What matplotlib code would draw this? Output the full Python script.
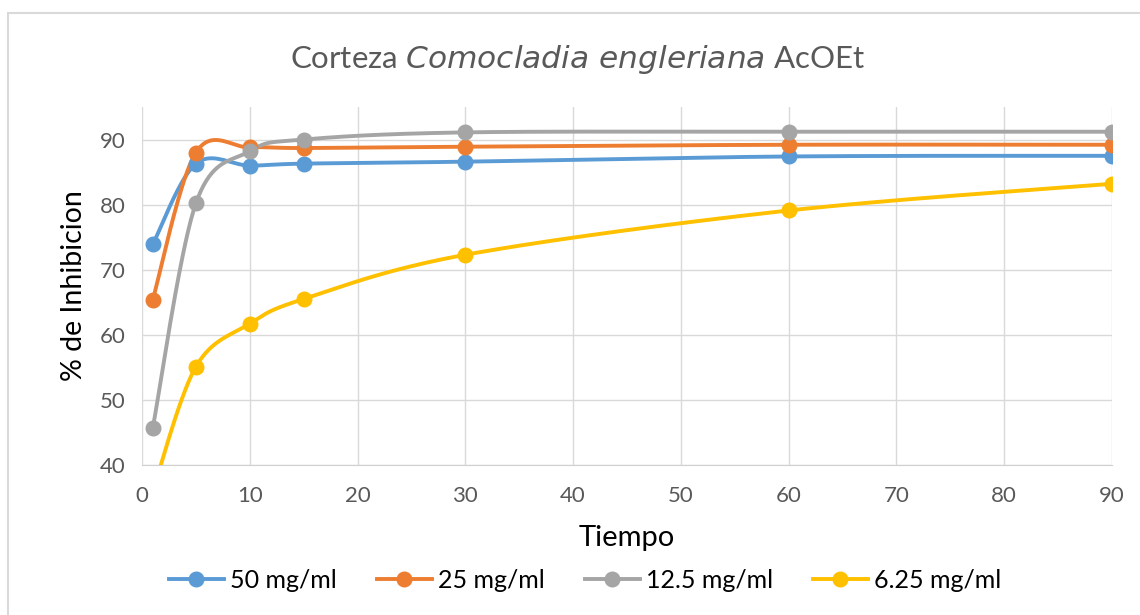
import matplotlib.pyplot as plt
import numpy as np
from matplotlib.lines import Line2D
from matplotlib.patches import Rectangle

plt.rcParams['font.family'] = ['Lato', 'DejaVu Sans']

tiempo = [1, 5, 10, 15, 30, 60, 90]
series_names = ['50 mg/ml', '25 mg/ml', '12.5 mg/ml', '6.25 mg/ml']
inh_50 = [73.9, 86.3, 86.0, 86.3, 86.6, 87.4, 87.5]
inh_25 = [65.4, 88.0, 88.8, 88.7, 88.9, 89.2, 89.2]
inh_12 = [45.7, 80.2, 88.2, 90.0, 91.1, 91.2, 91.2]
inh_6 = [36.0, 55.1, 61.7, 65.5, 72.3, 79.1, 83.2]
colors = ['#5B9BD5', '#ED7D31', '#A5A5A5', '#FFC000']


def smooth(xs, ys, n=40):
    # bezier through each pair of points, control points from neighbours (tension 1/6)
    p = np.column_stack([xs, ys]).astype(float)
    out = []
    for i in range(len(p) - 1):
        p_prev = p[i - 1] if i > 0 else p[i]
        p_next = p[i + 2] if i + 2 < len(p) else p[i + 1]
        c1 = p[i] + (p[i + 1] - p_prev) / 6
        c2 = p[i + 1] - (p_next - p[i]) / 6
        t = np.linspace(0, 1, n)[:, None]
        seg = ((1 - t) ** 3 * p[i] + 3 * (1 - t) ** 2 * t * c1
               + 3 * (1 - t) * t ** 2 * c2 + t ** 3 * p[i + 1])
        out.append(seg if i == 0 else seg[1:])
    out = np.vstack(out)
    return out[:, 0], out[:, 1]


fig = plt.figure(figsize=(11.4, 6.15), dpi=100)
fig.patches.append(Rectangle((8 / 1140, -0.1), 1.2, (615 - 13) / 615 + 0.1,
                             transform=fig.transFigure, fill=False,
                             edgecolor='#D9D9D9', linewidth=1.5))
ax = fig.add_axes([142 / 1140, 1 - 465 / 615, 970 / 1140, (465 - 107) / 615])

for ys, c in zip([inh_50, inh_25, inh_12, inh_6], colors):
    sx, sy = smooth(tiempo, ys)
    ax.plot(sx, sy, color=c, linewidth=2.8, solid_capstyle='round', zorder=3)
    ax.plot(tiempo, ys, 'o', color=c, markersize=10.5, zorder=4)

ax.set_xlim(0, 90)
ax.set_ylim(40, 95)
ax.set_xticks(range(0, 91, 10))
ax.set_yticks(range(40, 91, 10))
ax.grid(True, color='#D9D9D9', linewidth=1)
ax.set_axisbelow(True)
for s in ['top', 'right', 'left']:
    ax.spines[s].set_visible(False)
ax.spines['bottom'].set_color('#D0D0D0')
ax.tick_params(length=0, labelsize=16, labelcolor='#595959')
ax.tick_params(axis='x', pad=15)
ax.tick_params(axis='y', pad=12)

fig.text(578 / 1140, 1 - 60 / 615, 'Corteza $\\it{Comocladia\\ engleriana}$ AcOEt',
         ha='center', va='center', fontsize=22.5, color='#595959')
ax.set_xlabel('Tiempo', fontsize=21, color='#000000', labelpad=14)
ax.set_ylabel('% de Inhibicion', fontsize=20.5, color='#000000', labelpad=9)

handles = [Line2D([], [], color=c, linewidth=2.8, marker='o', markersize=10.5)
           for c in colors]
fig.legend(handles, series_names, loc='center', bbox_to_anchor=(585 / 1140, 1 - 580 / 615),
           ncol=4, frameon=False, fontsize=18, handlelength=2.2, handletextpad=0.25,
           columnspacing=1.6)

fig.savefig('out.png', dpi=100)
